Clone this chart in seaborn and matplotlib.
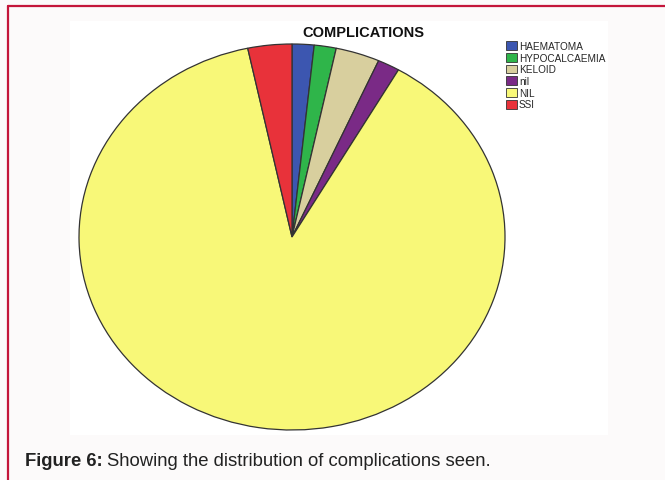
import matplotlib
matplotlib.use("Agg")
import matplotlib.pyplot as plt
import seaborn as sns
from matplotlib.patches import Rectangle
from matplotlib.lines import Line2D

sns.set_theme(style="white")
plt.rcParams['font.family'] = ['Liberation Sans', 'DejaVu Sans']

# data
labels = ["HAEMATOMA", "HYPOCALCAEMIA", "KELOID", "nil", "NIL", "SSI"]
counts = [1, 1, 2, 1, 53, 2]
colors = ["#3c56b0", "#2fb54a", "#d8cf9e", "#7a2a86", "#f8f878", "#e8323a"]

W, H = 665, 481
fig = plt.figure(figsize=(W / 100, H / 100), dpi=100)
fig.patch.set_facecolor("#fcfafa")

# red frame (left and top)
fig.add_artist(Line2D([8 / W, 8 / W], [0, 1 - 7 / H], color="#c4163a", lw=1.6, transform=fig.transFigure))
fig.add_artist(Line2D([8 / W, 1], [1 - 7 / H, 1 - 7 / H], color="#c4163a", lw=1.6, transform=fig.transFigure))

# white panel
fig.add_artist(Rectangle((70 / W, 1 - 436 / H), (608 - 70) / W, (436 - 22) / H,
                         facecolor="white", edgecolor="none", transform=fig.transFigure, zorder=0))

# pie axes (elliptical like the original)
cx, cy, rx, ry = 292, 238, 213, 193
ax = fig.add_axes([(cx - rx) / W, 1 - (cy + ry) / H, 2 * rx / W, 2 * ry / H])
ax.pie(counts, colors=colors, startangle=90, counterclock=False,
       wedgeprops=dict(edgecolor="#333333", linewidth=0.9))
ax.set_aspect("auto")
ax.set_xlim(-1.0, 1.0)
ax.set_ylim(-1.0, 1.0)
ax.axis("off")

fig.text(363 / W, 1 - 33 / H, "COMPLICATIONS", ha="center", va="center",
         fontsize=10.5, fontweight="bold", color="#111111")

# legend
handles = [Rectangle((0, 0), 1, 1, facecolor=c, edgecolor="#333333", lw=0.6) for c in colors]
fig.legend(handles, labels, loc="upper left", bbox_to_anchor=(504 / W, 1 - 40 / H),
           frameon=False, fontsize=7.2, handlelength=1.1, handleheight=1.0,
           handletextpad=0.2, labelspacing=0.17, borderpad=0.2, borderaxespad=0)

fig.text(25 / W, 1 - 462 / H, "Figure 6:", ha="left", va="center",
         fontsize=13.3, fontweight="bold", color="#222222")
fig.text(107 / W, 1 - 462 / H, "Showing the distribution of complications seen.", ha="left",
         va="center", fontsize=13.3, color="#222222")

fig.savefig("out.png", dpi=100, facecolor=fig.get_facecolor())
